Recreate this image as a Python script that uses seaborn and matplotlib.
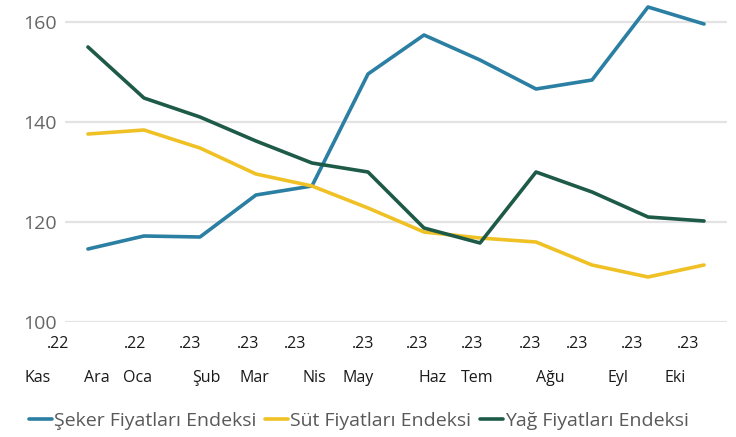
import numpy as np
import pandas as pd
import matplotlib
matplotlib.use("Agg")
import matplotlib.pyplot as plt
import seaborn as sns

# Monthly index values, Nov 2022 - Oct 2023
months = ["Kas", "Ara", "Oca", "Şub", "Mar", "Nis", "May", "Haz", "Tem", "Ağu", "Eyl", "Eki"]
years = [".22", ".22", ".23", ".23", ".23", ".23", ".23", ".23", ".23", ".23", ".23", ".23"]

seker = [114.6, 117.2, 117.0, 125.4, 127.2, 149.6, 157.4, 152.4, 146.6, 148.4, 163.0, 159.6]
sut = [137.6, 138.4, 134.8, 129.6, 127.2, 122.8, 118.0, 116.8, 116.0, 111.4, 109.0, 111.4]
yag = [155.0, 144.8, 141.0, 136.2, 131.8, 130.0, 118.8, 115.8, 130.0, 126.0, 121.0, 120.2]

series_names = ["Şeker Fiyatları Endeksi", "Süt Fiyatları Endeksi", "Yağ Fiyatları Endeksi"]
colors = ["#2A7FA3", "#EFC125", "#1E5A48"]

# Horizontal offsets (in category units) of the two label rows under each tick
year_dx = [-0.54, -0.16, -0.18, -0.14, -0.30, -0.09, -0.12, -0.14, -0.11, -0.27, -0.29, -0.29]
month_dx = [-0.89, -0.84, -1.11, -0.88, -1.02, -0.95, -1.18, -0.84, -1.05, -0.75, -0.54, -0.52]

idx = np.arange(len(months))
df = pd.DataFrame({
    "i": np.tile(idx, 3),
    "value": seker + sut + yag,
    "series": np.repeat(series_names, len(months)),
})

sns.set_theme(style="white")
plt.rcParams["font.family"] = ["Open Sans", "DejaVu Sans"]

fig = plt.figure(figsize=(7.36, 4.37), dpi=100)
ax = fig.add_axes([65 / 736, 1 - 322 / 437, (727 - 65) / 736, 320 / 437])

for y in [100, 120, 140, 160]:
    ax.axhline(y, color="#E3E3E3", lw=1.6, zorder=0)

sns.lineplot(data=df, x="i", y="value", hue="series", hue_order=series_names,
             palette=colors, linewidth=2.6, ax=ax, legend=False)

ax.set_xlim(-0.41, 11.41)
ax.set_ylim(100, 164)
ax.set_yticks([100, 120, 140, 160])
ax.set_yticklabels(["100", "120", "140", "160"], fontsize=14, color="#666666")
ax.tick_params(axis="y", length=0, pad=6)
ax.set_xticks([])
ax.set_xlabel("")
ax.set_ylabel("")
for s in ax.spines.values():
    s.set_visible(False)

trans = ax.get_xaxis_transform()
for i in idx:
    ax.text(i + year_dx[i], -0.07, years[i], transform=trans, ha="center", va="center",
            fontsize=11.5, color="#1a1a1a", clip_on=False)
    ax.text(i + month_dx[i], -0.175, months[i], transform=trans, ha="center", va="center",
            fontsize=11.5, color="#1a1a1a", clip_on=False)

handles = [plt.Line2D([], [], color=c, lw=2.6) for c in colors]
fig.legend(handles, series_names, loc="center", bbox_to_anchor=(359 / 736, 1 - 421 / 437),
           ncol=3, frameon=False, fontsize=14, handlelength=1.2, handletextpad=0.1,
           columnspacing=0.45, labelcolor="#595959")

fig.savefig("out.png", dpi=100)
